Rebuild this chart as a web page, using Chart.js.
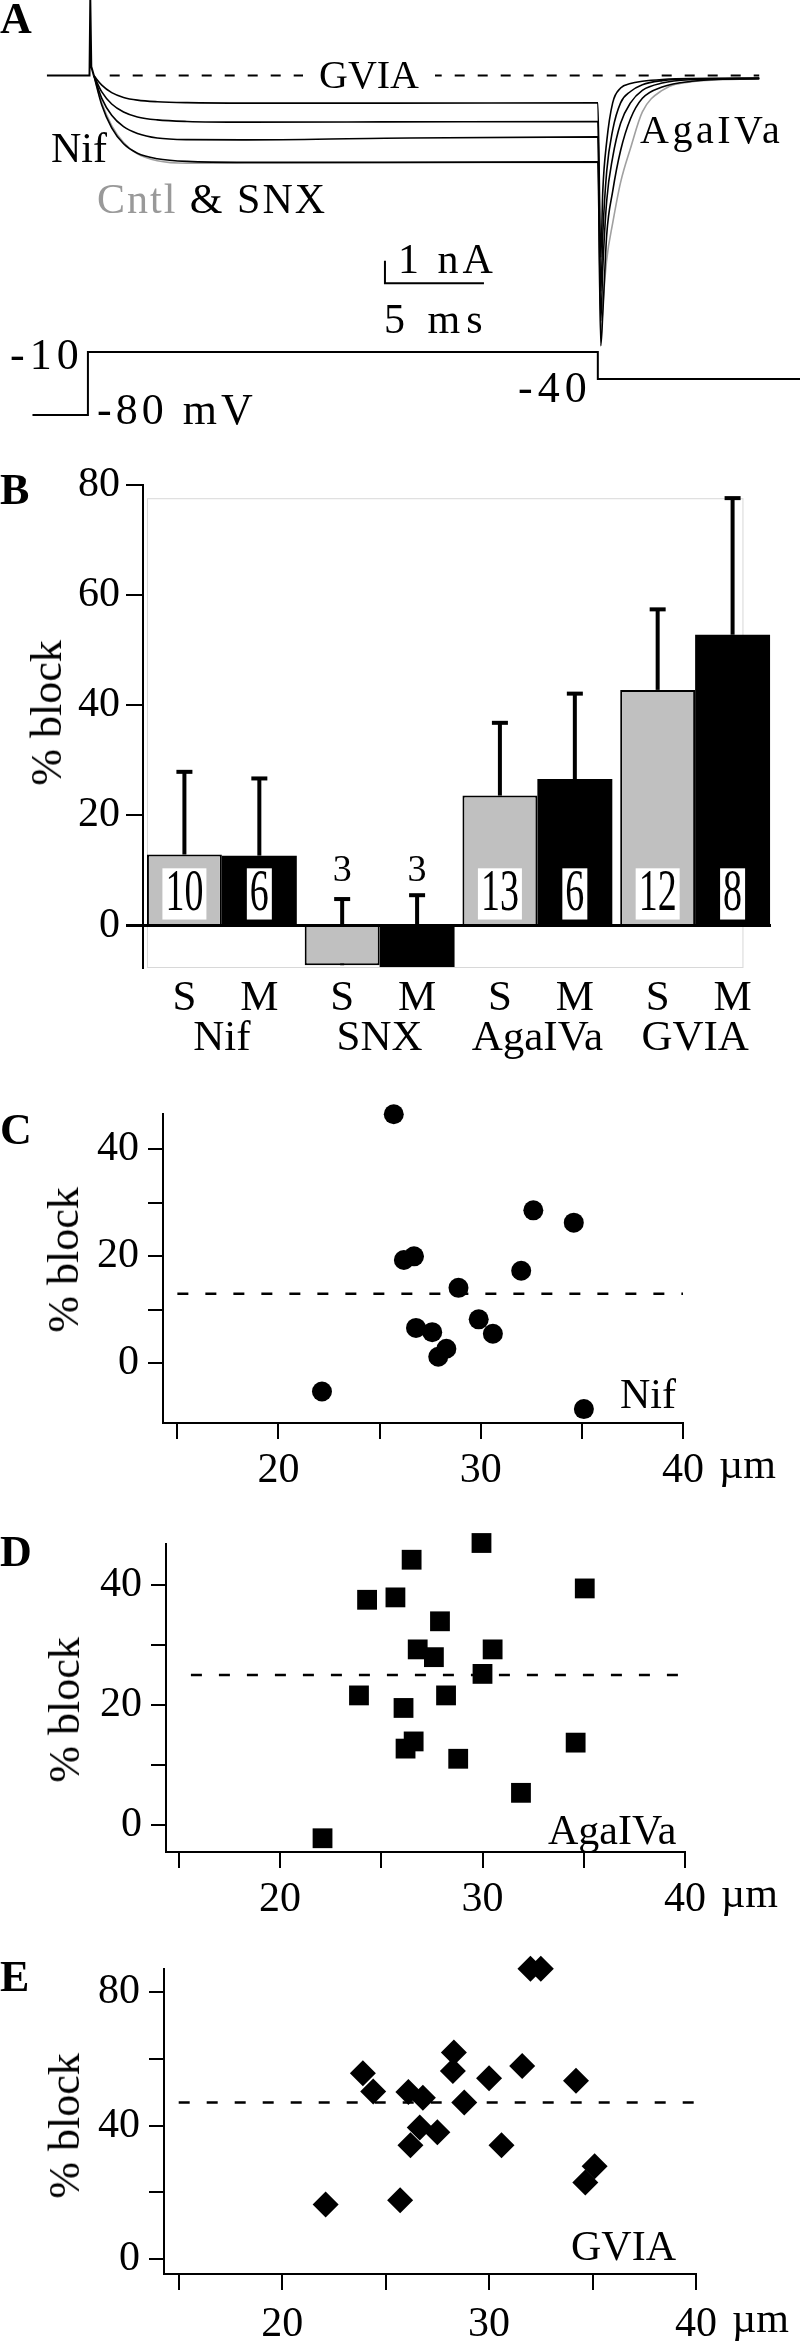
<!DOCTYPE html>
<html>
<head>
<meta charset="utf-8">
<script src="https://cdn.jsdelivr.net/npm/chart.js@4.4.1/dist/chart.umd.min.js"></script>
<style>
  body { margin: 0; background: #fff; }
  #fig { position: relative; width: 800px; height: 2341px; overflow: hidden;
         font-family: 'Liberation Serif', 'Times New Roman', serif; color: #000; }
  canvas { position: absolute; left: 0; }
  .t { position: absolute; line-height: 1; white-space: nowrap; font-size: 42px; }
  .lab { position: absolute; line-height: 1; font-weight: bold; font-size: 44px; }
  .yt { position: absolute; line-height: 1; font-size: 44px; white-space: nowrap;
        transform: translate(-50%, -50%) rotate(-90deg); }
</style>
</head>
<body>
<div id="fig">
  <canvas id="cA" width="800" height="440" style="top:0"></canvas>
  <canvas id="cB" width="800" height="620" style="top:440px"></canvas>
  <canvas id="cC" width="800" height="420" style="top:1080px"></canvas>
  <canvas id="cD" width="800" height="420" style="top:1510px"></canvas>
  <canvas id="cE" width="800" height="406" style="top:1935px"></canvas>

  <!-- panel letters -->
  <div class="lab" style="left:0;top:-3px">A</div>
  <div class="lab" style="left:0;top:468px">B</div>
  <div class="lab" style="left:0;top:1108px">C</div>
  <div class="lab" style="left:0;top:1530px">D</div>
  <div class="lab" style="left:0;top:1955px">E</div>

  <!-- panel A labels -->
  <div class="t" style="left:303px;top:55px;font-size:40px;background:#fff;padding:0 16px">GVIA</div>
  <div class="t" style="left:51px;top:127px">Nif</div>
  <div class="t" style="left:97px;top:178px;letter-spacing:2px"><span style="color:#999">Cntl</span> &amp; SNX</div>
  <div class="t" style="left:640px;top:110px;font-size:40px;letter-spacing:3.5px">AgaIVa</div>
  <div class="t" style="left:398px;top:238px;letter-spacing:4px">1 nA</div>
  <div class="t" style="left:384px;top:298px;letter-spacing:6px">5 ms</div>
  <div class="t" style="left:10px;top:333px;font-size:44px;letter-spacing:5px">-10</div>
  <div class="t" style="left:97px;top:388px;font-size:44px;letter-spacing:4px">-80 mV</div>
  <div class="t" style="left:518px;top:366px;font-size:44px;letter-spacing:5px">-40</div>

  <!-- y titles -->
  <div class="yt" style="left:47px;top:713px">% block</div>
  <div class="yt" style="left:64px;top:1260px">% block</div>
  <div class="yt" style="left:65px;top:1710px">% block</div>
  <div class="yt" style="left:65px;top:2126px">% block</div>

  <!-- scatter panel names -->
  <div class="t" style="left:620px;top:1373px">Nif</div>
  <div class="t" style="left:548px;top:1809px">AgaIVa</div>
  <div class="t" style="left:571px;top:2225px">GVIA</div>
</div>

<script>
// ---- panel A: currents (nA) vs time (ms) and the voltage step (mV)
const preTime = [-2.07, 0.08, 0.12, 0.17, 0.3];
const preCurrent = [0, 0, 3.33, 0.4, 0];
const traceTime = [0.3, 0.7, 1.2, 1.8, 2.5, 3.5, 5, 8, 15,
                   25.75, 25.9, 26.0, 26.2, 26.5, 26.9, 27.4, 28.0, 29.0, 30.5, 33.9];
const trace1 = [0, -0.42, -0.75, -0.96, -1.08, -1.15, -1.19, -1.21, -1.21,
                -1.2, -8.0, -5.1, -2.9, -1.2, -0.55, -0.35, -0.25, -0.17, -0.13, -0.12];
const trace2 = [0, -0.72, -1.25, -1.6, -1.82, -1.95, -2.02, -2.05, -2.04,
                -2.02, -9.5, -7.0, -4.2, -2.4, -1.2, -0.7, -0.4, -0.22, -0.14, -0.12];
const trace3 = [0, -1.0, -1.75, -2.25, -2.55, -2.75, -2.82, -2.83, -2.76,
                -2.7, -10.8, -8.5, -5.5, -3.6, -2.1, -1.2, -0.65, -0.33, -0.18, -0.12];
const trace4 = [0, -1.3, -2.3, -3.0, -3.42, -3.66, -3.78, -3.82, -3.82,
                -3.8, -11.9, -10.5, -7.0, -5.1, -3.3, -1.9, -1.0, -0.5, -0.25, -0.12];
const cntlTrace = [0, -1.2, -2.2, -2.95, -3.45, -3.75, -3.86, -3.85, -3.83,
                   -3.82, -11.6, -10.2, -8.1, -6.5, -4.7, -3.2, -1.6, -0.65, -0.27, -0.14];
const zeroTime = [1.1, 33.9];
const zeroCurrent = [0, 0];
const barTime = [15, 15, 20];          // 1 nA / 5 ms scale bar
const barCurrent = [-8.15, -9.15, -9.15];
const stepTime = [-2.8, 0, 0, 25.75, 25.75, 36.4];
const stepVolt = [-80, -80, -10, -10, -40, -40];

// ---- panel B: mean % block, SD and n, S and M groups
const groups = ['Nif', 'SNX', 'AgaIVa', 'GVIA'];
const sMean = [12.9, -7.2, 23.6, 42.8];
const mMean = [12.7, -7.5, 26.6, 52.8];
const sSD = [15.2, 12.2, 13.4, 14.8];
const mSD = [14.2, 13.2, 15.7, 25.0];
const sN = [10, 3, 13, 12];
const mN = [6, 3, 6, 8];
const blockTicks = [0, 20, 40, 60, 80];

// ---- panels C-E: % block vs diameter (µm)
const nifDiam = [25.7, 32.6, 34.6, 26.2, 26.7, 32.0, 28.9, 29.9, 30.6, 26.8, 27.6, 28.3, 27.9, 22.15, 35.1];
const nifBlock = [46.6, 28.6, 26.3, 19.3, 20.0, 17.3, 14.1, 8.2, 5.5, 6.6, 5.8, 2.7, 1.2, -5.3, -8.6];
const agaDiam = [29.95, 26.5, 35.05, 24.3, 25.7, 27.9, 26.8, 27.6, 30.5, 30.0, 23.9, 28.2, 26.1, 26.6, 26.2, 28.8, 34.6, 31.9, 22.1];
const agaBlock = [47.1, 44.3, 39.5, 37.6, 38.0, 34.0, 29.3, 28.0, 29.3, 25.2, 21.6, 21.6, 19.5, 13.9, 12.7, 11.0, 13.7, 5.3, -2.3];
const gviaDiam = [32.0, 32.5, 28.3, 28.25, 31.6, 30.0, 34.2, 23.9, 24.4, 26.1, 26.8, 28.8, 26.65, 27.5, 26.2, 30.6, 35.1, 34.65, 25.7, 22.1];
const gviaBlock = [86.8, 86.8, 61.8, 56.3, 57.8, 54.1, 53.4, 55.6, 50.2, 50.0, 48.3, 46.9, 39.4, 38.0, 34.1, 34.1, 27.8, 23.0, 17.7, 16.4];
const nifMean = 13.0;
const agaMean = 25.0;
const gviaMean = 46.9;
const diamTicks = [15, 20, 25, 30, 35, 40];
const diamLabels = ['', '20', '', '30', '', '40'];
const smallBlockTicks = [0, 10, 20, 30, 40];
const smallBlockLabels = ['0', '', '20', '', '40'];
const gviaBlockTicks = [0, 20, 40, 60, 80];
const gviaBlockLabels = ['0', '', '40', '', '80'];

const SERIF = "'Liberation Serif', 'Times New Roman', serif";
Chart.defaults.font.family = SERIF;
Chart.defaults.color = '#000';

const pts = (xs, ys) => xs.map((v, i) => ({ x: v, y: ys[i] }));

// ---------------- Panel A
function traceSet(xs, ys, color, extra) {
  return Object.assign({
    data: pts(xs, ys), showLine: true, pointRadius: 0, borderColor: color,
    borderWidth: 1.6, cubicInterpolationMode: 'monotone', yAxisID: 'y'
  }, extra || {});
}
const straight = { cubicInterpolationMode: 'default', tension: 0, borderWidth: 2 };

new Chart(document.getElementById('cA'), {
  type: 'scatter',
  data: {
    datasets: [
      traceSet(preTime, preCurrent, '#000', straight),
      traceSet(traceTime, trace1, '#000'),
      traceSet(traceTime, trace2, '#000'),
      traceSet(traceTime, trace3, '#000'),
      traceSet(traceTime, trace4, '#000'),
      traceSet(traceTime, cntlTrace, '#a0a0a0'),
      traceSet(zeroTime, zeroCurrent, '#000', Object.assign({}, straight, { borderDash: [10, 13] })),
      traceSet(barTime, barCurrent, '#000', straight),
      traceSet(stepTime, stepVolt, '#000', Object.assign({}, straight, { yAxisID: 'yV' }))
    ]
  },
  options: {
    responsive: false, animation: false,
    layout: { padding: 0 },
    plugins: { legend: { display: false }, tooltip: { enabled: false } },
    scales: {
      x: { type: 'linear', display: false, min: -4.44, max: 35.96 },
      y: { display: false, min: -16.05, max: 3.33 },
      yV: { display: false, min: -107.8, max: 381.1 }
    }
  }
});

// ---------------- Panel B
const frameTop = 77.6;
const frameRight = 3.3;

const barExtras = {
  id: 'barExtras',
  beforeDatasetsDraw(chart) {
    const { ctx, chartArea: a, scales: { x, y } } = chart;
    ctx.save();
    // faint plot frame
    ctx.strokeStyle = '#d8d8d8';
    ctx.lineWidth = 1;
    const fl = a.left + 4, fr = x.getPixelForValue(frameRight), ft = y.getPixelForValue(frameTop);
    ctx.strokeRect(fl + 0.5, ft + 0.5, fr - fl, a.bottom - ft - 1);
    // upper error bars, drawn under the bars
    ctx.strokeStyle = '#000';
    ctx.fillStyle = '#000';
    ctx.lineWidth = 4;
    chart.data.datasets.forEach((ds, di) => {
      chart.getDatasetMeta(di).data.forEach((bar, i) => {
        const yTop = y.getPixelForValue(ds.data[i] + ds.sd[i]);
        ctx.beginPath();
        ctx.moveTo(bar.x, y.getPixelForValue(ds.data[i]));
        ctx.lineTo(bar.x, yTop);
        ctx.stroke();
        ctx.fillRect(bar.x - 8, yTop - 1, 16, 4);
      });
    });
    ctx.restore();
  },
  afterDatasetsDraw(chart) {
    const { ctx, chartArea: a, scales: { x, y } } = chart;
    ctx.save();
    // zero line
    const y0 = y.getPixelForValue(0);
    ctx.strokeStyle = '#000';
    ctx.lineWidth = 3;
    ctx.beginPath();
    ctx.moveTo(a.left - 17, y0);
    ctx.lineTo(a.right - 3, y0);
    ctx.stroke();
    // n: tall numerals in white boxes, or plain above negative bars
    ctx.textAlign = 'center';
    ctx.textBaseline = 'middle';
    ctx.font = '38px ' + SERIF;
    chart.data.datasets.forEach((ds, di) => {
      chart.getDatasetMeta(di).data.forEach((bar, i) => {
        const txt = String(ds.n[i]);
        ctx.fillStyle = '#000';
        if (ds.data[i] > 0) {
          const w = ctx.measureText(txt).width + 6;
          const yb = y.getPixelForValue(1.1), yt = y.getPixelForValue(10.4);
          ctx.fillStyle = '#fff';
          ctx.fillRect(bar.x - w / 2, yt, w, yb - yt);
          ctx.fillStyle = '#000';
          ctx.save();
          ctx.translate(bar.x, (yt + yb) / 2 + 1);
          ctx.scale(1, 1.55);
          ctx.fillText(txt, 0, 0);
          ctx.restore();
        } else {
          ctx.fillText(txt, bar.x, y.getPixelForValue(9.9));
        }
      });
    });
    // S / M under each bar, drug name under each pair
    ctx.fillStyle = '#000';
    ctx.textBaseline = 'alphabetic';
    ctx.font = '43px ' + SERIF;
    chart.data.datasets.forEach((ds, di) => {
      chart.getDatasetMeta(di).data.forEach((bar) => {
        ctx.fillText(ds.label, bar.x, a.bottom + 42);
      });
    });
    chart.data.labels.forEach((g, i) => {
      ctx.fillText(g, x.getPixelForValue(i), a.bottom + 82);
    });
    ctx.restore();
  }
};

new Chart(document.getElementById('cB'), {
  type: 'bar',
  data: {
    labels: groups,
    datasets: [
      { label: 'S', data: sMean, sd: sSD, n: sN, backgroundColor: '#c0c0c0', borderColor: '#000',
        borderWidth: 2, categoryPercentage: 0.95, barPercentage: 1.0 },
      { label: 'M', data: mMean, sd: mSD, n: mN, backgroundColor: '#000', borderColor: '#000',
        borderWidth: 0, categoryPercentage: 0.95, barPercentage: 1.0 }
    ]
  },
  options: {
    responsive: false, animation: false,
    layout: { padding: { top: 45, right: 26, left: 0, bottom: 0 } },
    plugins: { legend: { display: false }, tooltip: { enabled: false } },
    scales: {
      x: {
        ticks: { display: false }, grid: { display: false }, border: { display: false },
        afterFit: s => { s.height = 92; }
      },
      y: {
        min: -7.7, max: 80,
        afterBuildTicks: s => { s.ticks = blockTicks.map(v => ({ value: v })); },
        ticks: { font: { size: 42 }, color: '#000', padding: 6, autoSkip: false },
        grid: { drawOnChartArea: false, tickLength: 17, color: '#000', lineWidth: 2 },
        border: { color: '#000', width: 2 },
        afterFit: s => { s.width = 143; }
      }
    }
  },
  plugins: [barExtras]
});

// ---------------- Panels C-E
const unitLabel = {
  id: 'unitLabel',
  afterDraw(chart) {
    const { ctx, scales: { x } } = chart;
    const o = chart.options.scales.x;
    ctx.save();
    ctx.font = '42px ' + SERIF;
    ctx.fillStyle = '#000';
    ctx.textAlign = 'left';
    ctx.textBaseline = 'top';
    ctx.fillText('µm', x.getPixelForValue(40) + 36, x.top + o.grid.tickLength + o.ticks.padding);
    ctx.restore();
  }
};

function scatterPanel(id, c) {
  return new Chart(document.getElementById(id), {
    type: 'scatter',
    data: {
      datasets: [
        { data: pts(c.xs, c.ys), pointStyle: c.style, pointRadius: c.radius, backgroundColor: '#000',
          borderColor: '#000', borderWidth: 0, clip: false },
        { data: pts([c.lineFrom, 40], [c.mean, c.mean]), showLine: true, pointRadius: 0,
          borderColor: '#000', borderWidth: 2.5, borderDash: [11, 17] }
      ]
    },
    options: {
      responsive: false, animation: false,
      layout: { padding: { top: c.padTop, right: c.padRight, left: 0, bottom: 0 } },
      plugins: { legend: { display: false }, tooltip: { enabled: false } },
      scales: {
        x: {
          type: 'linear', min: c.xMin, max: 40,
          afterBuildTicks: s => { s.ticks = diamTicks.map(v => ({ value: v })); },
          ticks: { callback: (v, i) => diamLabels[i], font: { size: 42 }, color: '#000',
                   padding: c.xPad, autoSkip: false, maxRotation: 0 },
          grid: { drawOnChartArea: false, tickLength: 16, color: '#000', lineWidth: 2 },
          border: { color: '#000', width: 2 },
          afterFit: s => { s.height = c.xHeight; }
        },
        y: {
          min: c.yMin, max: c.yMax,
          afterBuildTicks: s => { s.ticks = c.yTicks.map(v => ({ value: v })); },
          ticks: { callback: (v, i) => c.yLabels[i], font: { size: 42 }, color: '#000',
                   padding: 9, autoSkip: false },
          grid: { drawOnChartArea: false, tickLength: 15, color: '#000', lineWidth: 2 },
          border: { color: '#000', width: 2 },
          afterFit: s => { s.width = c.yWidth; }
        }
      }
    },
    plugins: [unitLabel]
  });
}

scatterPanel('cC', {
  xs: nifDiam, ys: nifBlock, style: 'circle', radius: 10, mean: nifMean, lineFrom: 15.0,
  xMin: 14.29, yMin: -11.2, yMax: 46.6, yTicks: smallBlockTicks, yLabels: smallBlockLabels,
  padTop: 31, padRight: 117, xHeight: 77, yWidth: 163, xPad: 7
});

scatterPanel('cD', {
  xs: agaDiam, ys: agaBlock, style: 'rect', radius: 14, mean: agaMean, lineFrom: 15.6,
  xMin: 14.37, yMin: -4.6, yMax: 46.9, yTicks: smallBlockTicks, yLabels: smallBlockLabels,
  padTop: 29, padRight: 115, xHeight: 78, yWidth: 166, xPad: 7
});

scatterPanel('cE', {
  xs: gviaDiam, ys: gviaBlock, style: 'rectRot', radius: 13, mean: gviaMean, lineFrom: 15.0,
  xMin: 14.29, yMin: -4.35, yMax: 86.7, yTicks: gviaBlockTicks, yLabels: gviaBlockLabels,
  padTop: 25, padRight: 104, xHeight: 67, yWidth: 164, xPad: 10
});
</script>
</body>
</html>
